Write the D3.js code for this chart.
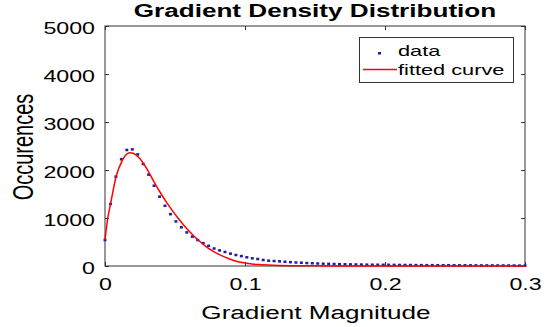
<!DOCTYPE html>
<html>
<head>
<meta charset="utf-8">
<script src="https://cdn.jsdelivr.net/npm/d3@7"></script>
<style>
  html, body { margin: 0; padding: 0; background: #fff; }
  text { font-family: "Liberation Sans", Arial, sans-serif; fill: #000; }
</style>
</head>
<body>
<div id="chart"></div>
<script>
// Chart size and plot box
const width = 546;
const height = 327;
const margin = { top: 26, right: 21, bottom: 61, left: 105 };
const innerWidth = width - margin.left - margin.right;
const innerHeight = height - margin.top - margin.bottom;
const stretch = 1.45; // the original figure is widened, so is its text

// Histogram of gradient magnitudes (78 bins from 0 to 0.3)
const binCount = 78;
const counts = [
  542, 1292, 1861, 2225, 2417, 2430, 2325, 2125, 1903, 1673,
  1444, 1255, 1080, 928, 806, 700, 611, 540, 476, 420,
  365, 325, 292, 257, 229, 206, 181, 160, 146, 125,
  111, 104, 97, 88, 80, 73, 68, 62, 57, 52,
  48, 45, 42, 39, 36, 34, 32, 30, 28, 27,
  26, 25, 24, 23, 22, 21, 20, 19, 18, 17,
  17, 16, 16, 15, 15, 14, 14, 13, 13, 12,
  12, 12, 11, 11, 10, 10, 9, 9
];

// Fitted curve
const fitX = [0, 0.002, 0.004, 0.008, 0.012, 0.016, 0.018, 0.02, 0.024, 0.03, 0.036, 0.04,
  0.044, 0.048, 0.052, 0.056, 0.06, 0.064, 0.068, 0.072, 0.076, 0.08, 0.084, 0.088,
  0.092, 0.096, 0.1, 0.105, 0.11, 0.12, 0.14, 0.16, 0.2, 0.25, 0.3];
const fitY = [540, 1000, 1300, 1870, 2180, 2340, 2360, 2350, 2265, 2020, 1700, 1505,
  1325, 1160, 1005, 860, 727, 610, 505, 410, 330, 262, 205, 155,
  115, 85, 62, 42, 30, 16, 5, 2, 0, 0, 0];

// Ticks
const xTicks = [0, 0.1, 0.2, 0.3];
const yTicks = [0, 1000, 2000, 3000, 4000, 5000];

const data = counts.map((c, i) => ({ x: i * 0.3 / (binCount - 1), y: c }));
const fit = fitX.map((x, i) => ({ x: x, y: fitY[i] }));

// widen text glyphs like the original picture
function widen(sel) {
  sel.each(function() {
    const w = this.getComputedTextLength();
    d3.select(this)
      .attr('textLength', w * stretch)
      .attr('lengthAdjust', 'spacingAndGlyphs');
  });
}

const svg = d3.select('#chart')
  .append('svg')
  .attr('width', width)
  .attr('height', height);

const g = svg.append('g')
  .attr('transform', `translate(${margin.left},${margin.top})`);

const xScale = d3.scaleLinear().domain([0, 0.3]).range([0, innerWidth]);
const yScale = d3.scaleLinear().domain([0, 5000]).range([innerHeight, 0]);

// Axes with inward ticks
const xAxis = g.append('g')
  .attr('transform', `translate(0,${innerHeight})`)
  .call(d3.axisBottom(xScale).tickValues(xTicks).tickSize(-4).tickPadding(13)
    .tickFormat(d => d === 0 ? '0' : d3.format('.1f')(d)));

const yAxis = g.append('g')
  .call(d3.axisLeft(yScale).tickValues(yTicks).tickSize(-4).tickPadding(10)
    .tickFormat(d3.format('d')));

g.append('g')
  .call(d3.axisTop(xScale).tickValues(xTicks).tickSize(-4).tickFormat(''));
g.append('g')
  .attr('transform', `translate(${innerWidth},0)`)
  .call(d3.axisRight(yScale).tickValues(yTicks).tickSize(-4).tickFormat(''));

g.selectAll('.domain').remove();
g.selectAll('.tick line').attr('stroke', '#333');

xAxis.selectAll('text')
  .style('font-size', '16px')
  .call(widen);
yAxis.selectAll('text')
  .style('font-size', '16px')
  .attr('dy', '0.45em')
  .call(widen);

// Plot frame
g.append('rect')
  .attr('width', innerWidth)
  .attr('height', innerHeight)
  .attr('fill', 'none')
  .attr('stroke', '#333')
  .attr('stroke-width', 1);

// Data points
g.selectAll('.point')
  .data(data)
  .enter()
  .append('rect')
  .attr('class', 'point')
  .attr('x', d => xScale(d.x) - 1.5)
  .attr('y', d => yScale(d.y) - 1.25)
  .attr('width', 3)
  .attr('height', 2.5)
  .attr('fill', '#1c1ca8');

// Fitted curve
const line = d3.line()
  .x(d => xScale(d.x))
  .y(d => yScale(d.y))
  .curve(d3.curveMonotoneX);

g.append('path')
  .datum(fit)
  .attr('d', line)
  .attr('fill', 'none')
  .attr('stroke', '#ff0000')
  .attr('stroke-width', 1.5);

// Title and axis labels
svg.append('text')
  .attr('x', 315)
  .attr('y', 17)
  .attr('text-anchor', 'middle')
  .style('font-size', '18px')
  .style('font-weight', 'bold')
  .text('Gradient Density Distribution')
  .call(widen);

svg.append('text')
  .attr('x', 316)
  .attr('y', 318.5)
  .attr('text-anchor', 'middle')
  .style('font-size', '18px')
  .text('Gradient Magnitude')
  .call(widen);

svg.append('g')
  .attr('transform', `translate(23,147) scale(${stretch},1)`)
  .append('text')
  .attr('transform', 'rotate(-90)')
  .attr('text-anchor', 'middle')
  .attr('dy', '0.36em')
  .style('font-size', '20px')
  .text('Occurences');

// Legend
const legend = svg.append('g');
legend.append('rect')
  .attr('x', 359.5)
  .attr('y', 37.5)
  .attr('width', 154)
  .attr('height', 45)
  .attr('fill', '#fff')
  .attr('stroke', '#333');
legend.append('rect')
  .attr('x', 378)
  .attr('y', 52)
  .attr('width', 3)
  .attr('height', 2.5)
  .attr('fill', '#1c1ca8');
legend.append('line')
  .attr('x1', 363).attr('x2', 397)
  .attr('y1', 69.5).attr('y2', 69.5)
  .attr('stroke', '#ff0000')
  .attr('stroke-width', 1.5);
legend.append('text')
  .attr('x', 398)
  .attr('y', 56)
  .style('font-size', '15px')
  .text('data')
  .call(widen);
legend.append('text')
  .attr('x', 398)
  .attr('y', 74.5)
  .style('font-size', '15px')
  .text('fitted curve')
  .call(widen);
</script>
</body>
</html>
